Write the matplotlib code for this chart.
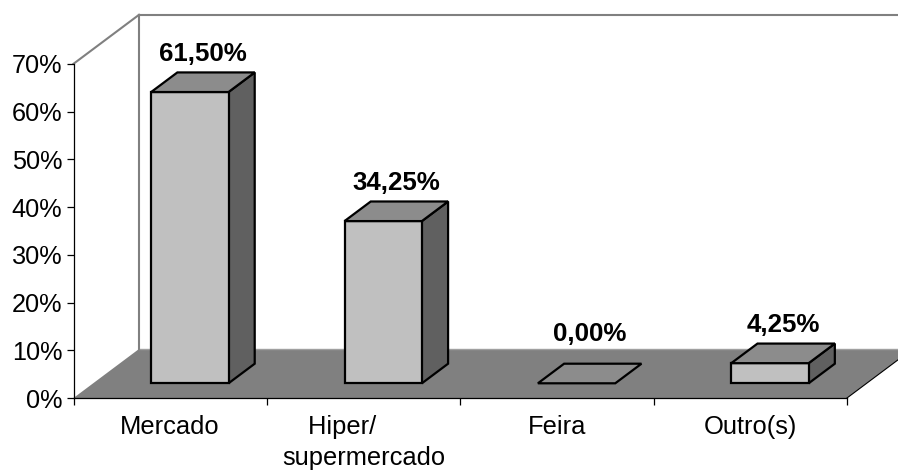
import matplotlib
matplotlib.use("Agg")
import matplotlib.pyplot as plt
from matplotlib.patches import Polygon

plt.rcParams['font.family'] = ['Liberation Sans', 'DejaVu Sans']

categories = ["Mercado", "Hiper/      \nsupermercado", "Feira", "Outro(s)"]
values = [61.50, 34.25, 0.00, 4.25]
value_labels = ["61,50%", "34,25%", "0,00%", "4,25%"]
y_ticks = [0, 10, 20, 30, 40, 50, 60, 70]

W, H = 898, 470
fig = plt.figure(figsize=(W / 100, H / 100), dpi=100)
L, R, B, T = 73.5, 847.0, 398.0, 63.8
ax = fig.add_axes([L / W, 1 - B / H, (R - L) / W, (B - T) / H])
ax.set_xlim(0, 4)
ax.set_ylim(0, 70)

px_x = 4 / (R - L)
px_y = 70 / (B - T)
DX, DY = 65.5 * px_x, 49.0 * px_y      # full floor depth in data units
Y_SHRINK = 0.992                       # perspective-free bar height correction


def proj(x, y, d):
    """Oblique projection: d=0 at the front plane, d=1 at the back wall."""
    return (x + d * DX, y + d * DY)


def poly(pts, **kw):
    ax.add_patch(Polygon(pts, closed=True, clip_on=False, **kw))


GRAY = "#808080"
# floor
poly([proj(0, 0, 0), proj(4, 0, 0), proj(4, 0, 1), proj(0, 0, 1)],
     facecolor=GRAY, edgecolor="none", zorder=1)
ax.plot([4, proj(4, 0, 1)[0]], [0, DY], color="black", lw=0.8, clip_on=False, zorder=1.5)
# walls
xs = [proj(0, 0, 1)[0], proj(0, 70, 1)[0]]
ax.plot(xs, [DY, 70 + DY], color=GRAY, lw=1.5, clip_on=False, zorder=1.2)
ax.plot([0, xs[0]], [70, 70 + DY], color=GRAY, lw=1.5, clip_on=False, zorder=1.2)
ax.plot([xs[0], proj(4, 0, 1)[0]], [70 + DY, 70 + DY], color=GRAY, lw=1.5, clip_on=False, zorder=1.2)
ax.plot([xs[0], proj(4, 0, 1)[0]], [DY, DY], color="#a0a0a0", lw=1.0, clip_on=False, zorder=1.1)

# bars
BAR_W = 0.4
D0, D1 = 0.3, 0.7
label_gap = [11, 11, 23, 11.5]
for i, (v, lab) in enumerate(zip(values, value_labels)):
    x0, x1 = i + 0.5 - BAR_W / 2, i + 0.5 + BAR_W / 2
    h = v * Y_SHRINK
    kw = dict(edgecolor="black", lw=1.6, joinstyle="miter", zorder=3)
    if h > 0:
        poly([proj(x1, 0, D0), proj(x1, 0, D1), proj(x1, h, D1), proj(x1, h, D0)],
             facecolor="#606060", **kw)
        poly([proj(x0, 0, D0), proj(x1, 0, D0), proj(x1, h, D0), proj(x0, h, D0)],
             facecolor="#c0c0c0", **kw)
    poly([proj(x0, h, D0), proj(x1, h, D0), proj(x1, h, D1), proj(x0, h, D1)],
         facecolor="#8c8c8c", **kw)
    cx = proj(i + 0.5, h, 0.5)[0]
    cy = proj(x0, h, D1)[1]
    ax.annotate(lab, (cx, cy), xytext=(0, label_gap[i] * 0.72), textcoords="offset points",
                ha="center", va="baseline", fontsize=18.6, fontweight="bold",
                color="black", zorder=5, annotation_clip=False)

# axes
for s in ("top", "right"):
    ax.spines[s].set_visible(False)
for s in ("left", "bottom"):
    ax.spines[s].set_linewidth(0.9)
    ax.spines[s].set_zorder(2)
ax.patch.set_alpha(0)
ax.set_yticks(y_ticks)
ax.set_yticklabels([f"{t}%" for t in y_ticks], fontsize=18.2)
ax.tick_params(axis="y", length=5, width=0.9, pad=3)
ax.set_xticks(range(5))
ax.set_xticklabels([])
ax.tick_params(axis="x", which="major", length=5, width=0.9)
ax.set_xticks([i + 0.5 for i in range(4)], minor=True)
ax.set_xticklabels(categories, minor=True, fontsize=18.4, linespacing=1.4)
ax.tick_params(axis="x", which="minor", length=0, pad=12)

fig.savefig("out.png", dpi=100)
